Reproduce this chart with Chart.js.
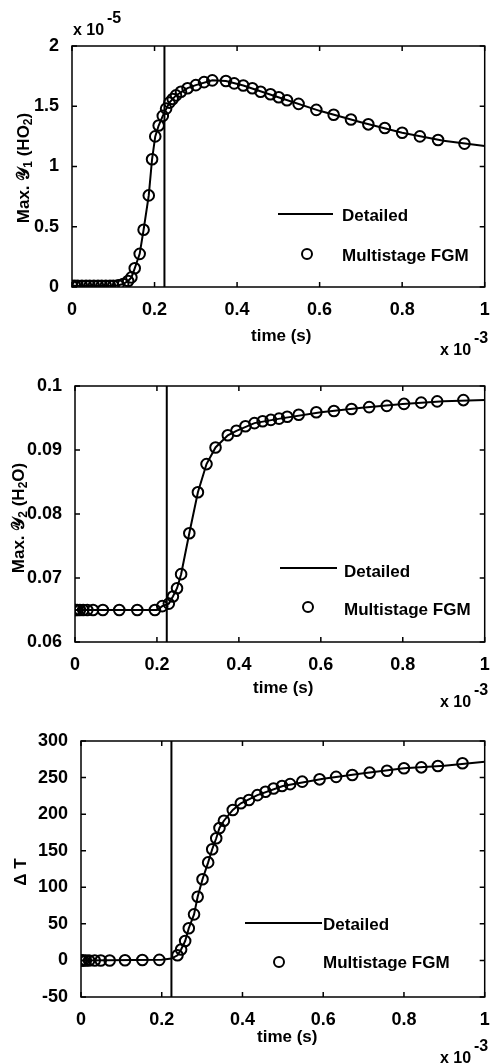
<!DOCTYPE html>
<html>
<head>
<meta charset="utf-8">
<script src="https://cdn.jsdelivr.net/npm/chart.js@4.4.1/dist/chart.umd.min.js"></script>
<style>
body { margin: 0; background: #fff; }
#page { position: relative; width: 492px; height: 1064px; overflow: hidden;
        font-family: "Liberation Sans", Arial, sans-serif; font-weight: bold; color: #000; }
canvas { position: absolute; left: 0; }
.txt { position: absolute; line-height: 1; white-space: nowrap; }
.vtxt { position: absolute; line-height: 1; white-space: nowrap; transform: translate(-50%, -50%) rotate(-90deg); }
.lgline { position: absolute; height: 2px; background: #000; }
.lgdot { position: absolute; width: 8px; height: 8px; border: 2px solid #000; border-radius: 50%; }
sub { font-size: 12px; vertical-align: -3px; }
</style>
</head>
<body>
<div id="page">
  <canvas id="c1" width="492" height="355" style="top:0px"></canvas>
  <canvas id="c2" width="492" height="335" style="top:355px"></canvas>
  <canvas id="c3" width="492" height="374" style="top:690px"></canvas>
</div>
<script>
// time axis in units of 1e-3 s
const xTicks = [0, 0.2, 0.4, 0.6, 0.8, 1];
const ignitionTime = 0.224;

// HO2 mass fraction, units of 1e-5
const hoTicks = [0, 0.5, 1, 1.5, 2];
const hoTime = [0, 0.007, 0.014, 0.024, 0.034, 0.043, 0.053, 0.063, 0.072, 0.082, 0.092,
  0.1, 0.112, 0.124, 0.136, 0.144, 0.152, 0.164, 0.1735, 0.186, 0.194, 0.2017, 0.21, 0.22,
  0.228, 0.236, 0.244, 0.252, 0.264, 0.28, 0.3, 0.32, 0.34, 0.373, 0.393, 0.415, 0.437,
  0.457, 0.481, 0.501, 0.521, 0.549, 0.592, 0.634, 0.676, 0.718, 0.758, 0.8, 0.843, 0.887, 0.951];
const hoFgm = [0.01, 0.01, 0.01, 0.01, 0.01, 0.01, 0.01, 0.01, 0.01, 0.01, 0.01,
  0.01, 0.015, 0.025, 0.05, 0.08, 0.155, 0.275, 0.475, 0.76, 1.06, 1.25, 1.34, 1.42,
  1.48, 1.53, 1.56, 1.59, 1.62, 1.65, 1.675, 1.70, 1.715, 1.71, 1.69, 1.672, 1.65,
  1.62, 1.60, 1.575, 1.55, 1.52, 1.47, 1.43, 1.39, 1.35, 1.32, 1.28, 1.25, 1.22, 1.19];
const hoDetTime = [0, 0.1, 0.112, 0.124, 0.136, 0.144, 0.152, 0.164, 0.1735, 0.186, 0.194, 0.2017,
  0.21, 0.22, 0.236, 0.252, 0.28, 0.3, 0.34, 0.373, 0.415, 0.5, 0.6, 0.7, 0.8, 0.9, 1];
const hoDet = [0.01, 0.01, 0.015, 0.025, 0.05, 0.08, 0.155, 0.275, 0.475, 0.76, 1.06, 1.25,
  1.34, 1.42, 1.53, 1.59, 1.65, 1.675, 1.715, 1.71, 1.672, 1.575, 1.462, 1.367, 1.28, 1.214, 1.17];

// H2O mass fraction
const h2oTicks = [0.06, 0.07, 0.08, 0.09, 0.1];
const h2oTime = [0, 0.002, 0.006, 0.012, 0.02, 0.03, 0.044, 0.068, 0.108, 0.152, 0.195,
  0.213, 0.229, 0.239, 0.249, 0.259, 0.279, 0.3, 0.321, 0.343, 0.373, 0.394, 0.416, 0.438,
  0.458, 0.478, 0.498, 0.518, 0.546, 0.589, 0.632, 0.675, 0.718, 0.761, 0.803, 0.845, 0.884, 0.948];
const h2oFgm = [0.065, 0.065, 0.065, 0.065, 0.065, 0.065, 0.065, 0.065, 0.065, 0.065, 0.065,
  0.0656, 0.066, 0.0671, 0.0684, 0.0706, 0.077, 0.0834, 0.0878, 0.0904, 0.0923, 0.093, 0.0937, 0.0942,
  0.0945, 0.0947, 0.0949, 0.0952, 0.0955, 0.0959, 0.0961, 0.0964, 0.0967, 0.0969, 0.0972, 0.0974, 0.0976, 0.0978];
const h2oDetTime = [0, 0.2, 0.213, 0.229, 0.239, 0.249, 0.259, 0.279, 0.3, 0.321, 0.343, 0.373,
  0.394, 0.438, 0.5, 0.6, 0.7, 0.8, 0.9, 1];
const h2oDet = [0.065, 0.065, 0.0656, 0.066, 0.0671, 0.0684, 0.0706, 0.077, 0.0834, 0.0878, 0.0904, 0.0923,
  0.093, 0.0942, 0.0949, 0.0959, 0.0966, 0.0972, 0.0976, 0.0978];

// temperature rise, K
const dtTicks = [-50, 0, 50, 100, 150, 200, 250, 300];
const dtTime = [0, 0.002, 0.006, 0.012, 0.02, 0.034, 0.049, 0.071, 0.109, 0.152, 0.194,
  0.239, 0.248, 0.258, 0.267, 0.28, 0.289, 0.301, 0.315, 0.325, 0.335, 0.343, 0.354, 0.376,
  0.396, 0.416, 0.437, 0.457, 0.477, 0.498, 0.518, 0.548, 0.591, 0.632, 0.672, 0.715, 0.758,
  0.8, 0.843, 0.884, 0.945];
const dtFgm = [0, 0, 0, 0, 0, 0, 0, 0, 0.3, 0.5, 0.8,
  7, 15, 26.5, 44, 63, 87, 111, 134, 152, 167, 181, 191, 205.7,
  214.8, 219.4, 226, 230.7, 235, 238.5, 241, 244.4, 247.6, 251, 253.5, 256.7, 259.4,
  262.7, 264, 265.8, 269.5];
const dtDetTime = [0, 0.2, 0.224, 0.239, 0.248, 0.258, 0.267, 0.28, 0.289, 0.301, 0.315, 0.325,
  0.335, 0.343, 0.354, 0.376, 0.396, 0.437, 0.5, 0.6, 0.7, 0.8, 0.9, 1];
const dtDet = [0, 0.8, 2.5, 7, 15, 26.5, 44, 63, 87, 111, 134, 152,
  167, 181, 191, 205.7, 214.8, 226, 238.5, 248.3, 255.8, 262.7, 266.3, 271.7];

const FONT = "'Liberation Sans', Arial, sans-serif";

const toPoints = (xs, ys) => xs.map((x, i) => ({ x: x, y: ys[i] }));

// axis box + inward tick marks on all four sides
const boxPlugin = {
  id: "boxPlugin",
  afterDraw(chart) {
    const ctx = chart.ctx;
    const a = chart.chartArea;
    const xs = chart.scales.x;
    const ys = chart.scales.y;
    ctx.save();
    ctx.strokeStyle = "#000";
    ctx.lineWidth = 1.5;
    ctx.strokeRect(a.left, a.top, a.right - a.left, a.bottom - a.top);
    ctx.beginPath();
    xs.ticks.forEach(t => {
      const px = xs.getPixelForValue(t.value);
      ctx.moveTo(px, a.bottom); ctx.lineTo(px, a.bottom - 5);
      ctx.moveTo(px, a.top); ctx.lineTo(px, a.top + 5);
    });
    ys.ticks.forEach(t => {
      const py = ys.getPixelForValue(t.value);
      ctx.moveTo(a.left, py); ctx.lineTo(a.left + 5, py);
      ctx.moveTo(a.right, py); ctx.lineTo(a.right - 5, py);
    });
    ctx.stroke();
    ctx.restore();
  }
};

const makeChart = (canvasId, area, canvasH, yMin, yMax, yTicks, det, fgm) => {
  const ctx = document.getElementById(canvasId).getContext("2d");
  return new Chart(ctx, {
    type: "scatter",
    data: {
      datasets: [
        {
          label: "ignition",
          data: [{ x: ignitionTime, y: yMin }, { x: ignitionTime, y: yMax }],
          showLine: true, borderColor: "#000", borderWidth: 2, pointRadius: 0,
        },
        {
          label: "Detailed",
          data: det,
          showLine: true, borderColor: "#000", borderWidth: 2, pointRadius: 0, tension: 0,
        },
        {
          label: "Multistage FGM",
          data: fgm,
          showLine: false, pointStyle: "circle", pointRadius: 5.3, borderWidth: 2,
          borderColor: "#000", backgroundColor: "rgba(0,0,0,0)",
        },
      ],
    },
    options: {
      responsive: false,
      animation: false,
      layout: { padding: { top: area.top, left: 0, right: 492 - area.right, bottom: 0 } },
      plugins: { legend: { display: false }, tooltip: { enabled: false } },
      scales: {
        x: {
          type: "linear", min: 0, max: 1,
          grid: { display: false }, border: { display: false },
          afterBuildTicks: s => { s.ticks = xTicks.map(v => ({ value: v })); },
          afterFit: s => { s.height = canvasH - area.bottom; s.paddingLeft = 0; s.paddingRight = 0; },
          ticks: { color: "#000", padding: 4, maxRotation: 0,
                   font: { family: FONT, size: 18, weight: "bold" },
                   callback: v => String(+v.toFixed(4)) },
        },
        y: {
          type: "linear", min: yMin, max: yMax,
          grid: { display: false }, border: { display: false },
          afterBuildTicks: s => { s.ticks = yTicks.map(v => ({ value: v })); },
          afterFit: s => { s.width = area.left; },
          ticks: { color: "#000", padding: 5,
                   font: { family: FONT, size: 18, weight: "bold" },
                   callback: v => String(+v.toFixed(4)) },
        },
      },
    },
    plugins: [boxPlugin],
  });
};

makeChart("c1", { left: 72, right: 488, top: 46, bottom: 287 }, 355, 0, 2, hoTicks,
  toPoints(hoDetTime, hoDet), toPoints(hoTime, hoFgm));
makeChart("c2", { left: 75, right: 489, top: 31, bottom: 287 }, 335, 0.06, 0.1, h2oTicks,
  toPoints(h2oDetTime, h2oDet), toPoints(h2oTime, h2oFgm));
makeChart("c3", { left: 81, right: 491, top: 51, bottom: 307 }, 374, -50, 300, dtTicks,
  toPoints(dtDetTime, dtDet), toPoints(dtTime, dtFgm));

// text overlays
const page = document.getElementById("page");
const addText = (html, x, baseline, size) => {
  const d = document.createElement("div");
  d.className = "txt";
  d.style.fontSize = size + "px";
  d.style.left = x + "px";
  d.style.top = (baseline - 0.8465 * size) + "px";
  d.innerHTML = html;
  page.appendChild(d);
  return d;
};
const addCentered = (html, cx, baseline, size) => {
  const d = addText(html, 0, baseline, size);
  d.style.left = (cx - d.offsetWidth / 2) + "px";
};
const addVertical = (html, cx, cy, size) => {
  const d = document.createElement("div");
  d.className = "vtxt";
  d.style.fontSize = size + "px";
  d.style.left = cx + "px";
  d.style.top = cy + "px";
  d.innerHTML = html;
  page.appendChild(d);
};
const addExponent = (x, baseline, exp) => {
  addText("x 10", x, baseline, 16);
  addText(exp, x + 34, baseline - 12, 16);
};
const addLegend = (lineX1, lineX2, lineY, dotX, dotY, textX, base1, base2) => {
  const l = document.createElement("div");
  l.className = "lgline";
  l.style.left = lineX1 + "px"; l.style.width = (lineX2 - lineX1) + "px"; l.style.top = (lineY - 1) + "px";
  page.appendChild(l);
  const c = document.createElement("div");
  c.className = "lgdot";
  c.style.left = (dotX - 6) + "px"; c.style.top = (dotY - 6) + "px";
  page.appendChild(c);
  addText("Detailed", textX, base1, 17);
  addText("Multistage FGM", textX, base2, 17);
};

// top
addExponent(73, 35.5, "-5");
addVertical("Max. 𝒴<sub>1</sub> (HO<sub>2</sub>)", 24, 168, 17);
addCentered("time (s)", 281, 341, 17);
addExponent(440, 356, "-3");
addLegend(278, 333, 214, 307, 254, 342, 221.5, 261.5);

// middle
addVertical("Max. 𝒴<sub>2</sub> (H<sub>2</sub>O)", 19, 518, 17);
addCentered("time (s)", 283, 693, 17);
addExponent(440, 708, "-3");
addLegend(280, 337, 568, 308, 607, 344, 577, 615);

// bottom
addVertical("Δ T", 20, 872, 17);
addCentered("time (s)", 287, 1042, 17);
addExponent(440, 1064, "-3");
addLegend(245, 322, 923, 279, 962, 323, 930, 968);
</script>
</body>
</html>
